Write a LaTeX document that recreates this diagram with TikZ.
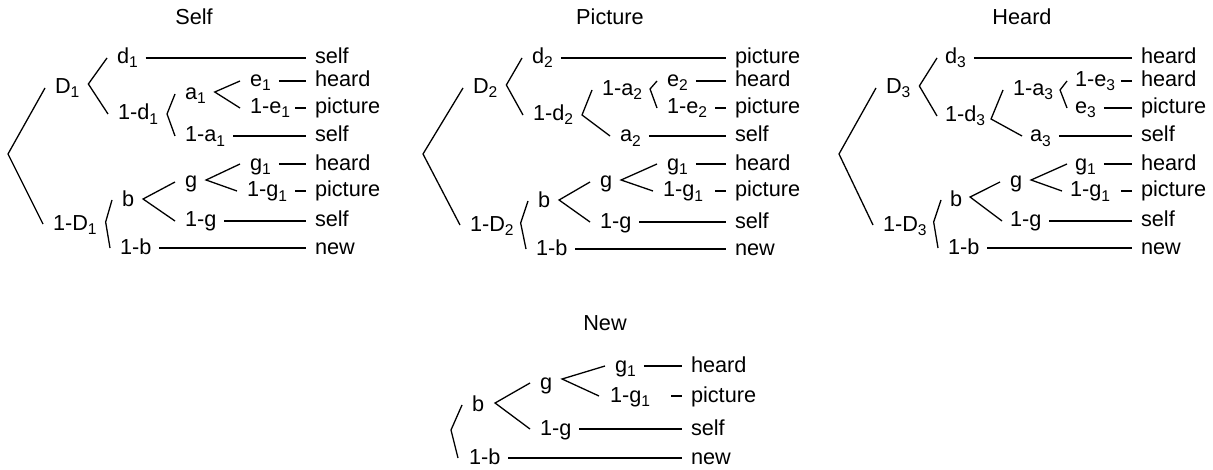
\documentclass[tikz,border=0pt]{standalone}
\usepackage{fontspec}
\setmainfont{Liberation Sans}
\usepackage{tikz}
\usetikzlibrary{positioning,calc}
\newcommand\lsub[1]{\raisebox{-2pt}{\fontsize{7.8pt}{9pt}\selectfont #1}}

\begin{document}
\begin{tikzpicture}[x=0.5pt, y=-0.5pt, line width=0.65pt,
    font=\fontsize{10.85pt}{13pt}\selectfont,
    lbl/.style={anchor=west, inner sep=0pt, outer sep=0pt, text height=6pt, text depth=0pt},
    ttl/.style={inner sep=0pt, text height=8pt, text depth=0pt},
    leaf/.style={shorten <=4pt, shorten >=4.5pt},
    stub/.style={shorten >=4.5pt}]
    \useasboundingbox (0,0) rectangle (1213,470);

    % Self
    \node[ttl] (S-ttl) at (194,17) {Self};
    \coordinate (S-r) at (8,154);
    \node[lbl] (S-D) at (55,88) {D\lsub{1}};
    \node[lbl] (S-d) at (117,58) {d\lsub{1}};
    \node[lbl] (S-nd) at (118,114) {1-d\lsub{1}};
    \node[lbl] (S-a) at (185,94) {a\lsub{1}};
    \node[lbl] (S-e) at (250,81) {e\lsub{1}};
    \node[lbl] (S-ne) at (250,108) {1-e\lsub{1}};
    \node[lbl] (S-na) at (185,136) {1-a\lsub{1}};
    \node[lbl] (S-nD) at (53,224) {1-D\lsub{1}};
    \node[lbl] (S-b) at (122,200) {b};
    \node[lbl] (S-g) at (185,182) {g};
    \node[lbl] (S-gi) at (250,164) {g\lsub{1}};
    \node[lbl] (S-ngi) at (247,191) {1-g\lsub{1}};
    \node[lbl] (S-ng) at (185,221) {1-g};
    \node[lbl] (S-nb) at (120,248) {1-b};
    \foreach \y/\w [count=\i] in {58/self,81/heard,108/picture,136/self,164/heard,191/picture,221/self,248/new}
        \node[lbl] (S-t\i) at (315,\y) {\w};

    \draw ([xshift=-5pt]S-D.west) -- (S-r) -- ([xshift=-5pt]S-nD.west);
    \draw ([xshift=-5pt]S-d.west) -- ([shift={(4.5pt,2pt)}]S-D.east) -- ([xshift=-5pt]S-nd.west);
    \draw ([xshift=-5pt]S-a.west) -- ([shift={(4.5pt,0pt)}]S-nd.east) -- ([xshift=-5pt]S-na.west);
    \draw ([xshift=-5pt]S-e.west) -- ([shift={(4.5pt,1pt)}]S-a.east) -- ([xshift=-5pt]S-ne.west);
    \draw ([xshift=-5pt]S-b.west) -- ([shift={(4.5pt,1pt)}]S-nD.east) -- ([xshift=-5pt]S-nb.west);
    \draw ([xshift=-5pt]S-g.west) -- ([shift={(4.5pt,0.5pt)}]S-b.east) -- ([xshift=-5pt]S-ng.west);
    \draw ([xshift=-5pt]S-gi.west) -- ([shift={(4.5pt,1pt)}]S-g.east) -- ([xshift=-5pt]S-ngi.west);
    \foreach \a/\i in {d/1,e/2,na/4,gi/5,ng/7,nb/8}
        \draw[leaf] (S-\a.east) -- (S-t\i.west);
    \foreach \i in {3,6}
        \draw[stub] ([xshift=-10pt]S-t\i.west) -- (S-t\i.west);

    % Picture
    \node[ttl] (P-ttl) at (610,17) {Picture};
    \coordinate (P-r) at (423,154);
    \node[lbl] (P-D) at (473,88) {D\lsub{2}};
    \node[lbl] (P-d) at (532,58) {d\lsub{2}};
    \node[lbl] (P-nd) at (533,115) {1-d\lsub{2}};
    \node[lbl] (P-na) at (602,90) {1-a\lsub{2}};
    \node[lbl] (P-e) at (667,81) {e\lsub{2}};
    \node[lbl] (P-ne) at (667,108) {1-e\lsub{2}};
    \node[lbl] (P-a) at (620,136) {a\lsub{2}};
    \node[lbl] (P-nD) at (470,225) {1-D\lsub{2}};
    \node[lbl] (P-b) at (538,201) {b};
    \node[lbl] (P-g) at (600,182) {g};
    \node[lbl] (P-gi) at (667,164) {g\lsub{1}};
    \node[lbl] (P-ngi) at (663,191) {1-g\lsub{1}};
    \node[lbl] (P-ng) at (600,222) {1-g};
    \node[lbl] (P-nb) at (536,249) {1-b};
    \foreach \y/\w [count=\i] in {58/picture,81/heard,108/picture,136/self,164/heard,191/picture,222/self,249/new}
        \node[lbl] (P-t\i) at (735,\y) {\w};

    \draw ([xshift=-5pt]P-D.west) -- (P-r) -- ([xshift=-5pt]P-nD.west);
    \draw ([xshift=-5pt]P-d.west) -- ([shift={(4.5pt,1.5pt)}]P-D.east) -- ([xshift=-5pt]P-nd.west);
    \draw ([xshift=-5pt]P-na.west) -- ([shift={(4.5pt,0pt)}]P-nd.east) -- ([xshift=-5pt]P-a.west);
    \draw ([xshift=-5pt]P-e.west) -- ([shift={(4pt,0.5pt)}]P-na.east) -- ([xshift=-5pt]P-ne.west);
    \draw ([xshift=-5pt]P-b.west) -- ([shift={(3.5pt,1pt)}]P-nD.east) -- ([xshift=-5pt]P-nb.west);
    \draw ([xshift=-5pt]P-g.west) -- ([shift={(4.5pt,0.5pt)}]P-b.east) -- ([xshift=-5pt]P-ng.west);
    \draw ([xshift=-5pt]P-gi.west) -- ([shift={(4.5pt,1pt)}]P-g.east) -- ([xshift=-5pt]P-ngi.west);
    \foreach \a/\i in {d/1,e/2,a/4,gi/5,ng/7,nb/8}
        \draw[leaf] (P-\a.east) -- (P-t\i.west);
    \foreach \i in {3,6}
        \draw[stub] ([xshift=-10pt]P-t\i.west) -- (P-t\i.west);

    % Heard
    \node[ttl] (H-ttl) at (1022,17) {Heard};
    \coordinate (H-r) at (839,154);
    \node[lbl] (H-D) at (886,88) {D\lsub{3}};
    \node[lbl] (H-d) at (945,58) {d\lsub{3}};
    \node[lbl] (H-nd) at (945,116) {1-d\lsub{3}};
    \node[lbl] (H-na) at (1013,90) {1-a\lsub{3}};
    \node[lbl] (H-ne) at (1075,81) {1-e\lsub{3}};
    \node[lbl] (H-e) at (1075,108) {e\lsub{3}};
    \node[lbl] (H-a) at (1030,136) {a\lsub{3}};
    \node[lbl] (H-nD) at (883,225) {1-D\lsub{3}};
    \node[lbl] (H-b) at (950,200) {b};
    \node[lbl] (H-g) at (1010,182) {g};
    \node[lbl] (H-gi) at (1075,164) {g\lsub{1}};
    \node[lbl] (H-ngi) at (1070,191) {1-g\lsub{1}};
    \node[lbl] (H-ng) at (1010,221) {1-g};
    \node[lbl] (H-nb) at (948,248) {1-b};
    \foreach \y/\w [count=\i] in {58/heard,81/heard,108/picture,136/self,164/heard,191/picture,221/self,248/new}
        \node[lbl] (H-t\i) at (1141,\y) {\w};

    \draw ([xshift=-5pt]H-D.west) -- (H-r) -- ([xshift=-5pt]H-nD.west);
    \draw ([xshift=-4pt]H-d.west) -- ([shift={(4.5pt,1pt)}]H-D.east) -- ([xshift=-4pt]H-nd.west);
    \draw ([xshift=-5pt]H-na.west) -- ([shift={(3pt,-1.5pt)}]H-nd.east) -- ([xshift=-4pt]H-a.west);
    \draw ([xshift=-4pt]H-ne.west) -- ([shift={(3.5pt,0pt)}]H-na.east) -- ([xshift=-4pt]H-e.west);
    \draw ([xshift=-4.5pt]H-b.west) -- ([shift={(3.5pt,1.5pt)}]H-nD.east) -- ([xshift=-5pt]H-nb.west);
    \draw ([xshift=-5pt]H-g.west) -- ([shift={(4pt,1.5pt)}]H-b.east) -- ([xshift=-4pt]H-ng.west);
    \draw ([xshift=-4pt]H-gi.west) -- ([shift={(4.5pt,1pt)}]H-g.east) -- ([xshift=-4pt]H-ngi.west);
    \foreach \a/\i in {d/1,e/3,a/4,gi/5,ng/7,nb/8}
        \draw[leaf] (H-\a.east) -- (H-t\i.west);
    \foreach \i in {2,6}
        \draw[stub] ([xshift=-10pt]H-t\i.west) -- (H-t\i.west);

    % New
    \node[ttl] (N-ttl) at (605,322) {New};
    \coordinate (N-r) at (451,430);
    \node[lbl] (N-b) at (472,405) {b};
    \node[lbl] (N-g) at (540,383) {g};
    \node[lbl] (N-gi) at (615,366) {g\lsub{1}};
    \node[lbl] (N-ngi) at (610,396) {1-g\lsub{1}};
    \node[lbl] (N-ng) at (540,429) {1-g};
    \node[lbl] (N-nb) at (469,458) {1-b};
    \foreach \y/\w [count=\i] in {366/heard,396/picture,429/self,458/new}
        \node[lbl] (N-t\i) at (691,\y) {\w};

    \draw ([xshift=-5pt]N-b.west) -- (N-r) -- ([xshift=-5.5pt]N-nb.west);
    \draw ([xshift=-5pt]N-g.west) -- ([shift={(5.5pt,1pt)}]N-b.east) -- ([xshift=-5pt]N-ng.west);
    \draw ([xshift=-5pt]N-gi.west) -- ([shift={(5pt,2pt)}]N-g.east) -- ([xshift=-5.5pt]N-ngi.west);
    \foreach \a/\i in {gi/1,ng/3,nb/4}
        \draw[leaf] (N-\a.east) -- (N-t\i.west);
    \draw[stub] ([xshift=-10pt]N-t2.west) -- (N-t2.west);
\end{tikzpicture}
\end{document}
